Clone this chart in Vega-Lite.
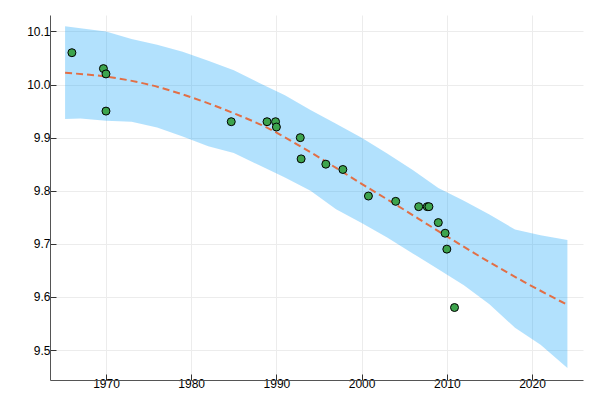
{
  "$schema": "https://vega.github.io/schema/vega-lite/v6.json",
  "width": 533,
  "height": 365,
  "autosize": {"type": "none"},
  "padding": {"left": 50, "top": 15, "right": 12, "bottom": 26},
  "background": "white",
  "config": {
    "view": {"stroke": null},
    "axis": {
      "labelFont": "Liberation Sans",
      "labelFontSize": 12,
      "labelColor": "#000000",
      "domainColor": "#555555",
      "domainWidth": 1,
      "tickColor": "#333333",
      "tickSize": -6,
      "tickWidth": 1,
      "gridColor": "#ececec",
      "gridWidth": 1,
      "title": null
    }
  },
  "datasets": {
    "band": [
      {"year": 1965.2, "lo": 9.935, "hi": 10.110},
      {"year": 1967, "lo": 9.936, "hi": 10.106},
      {"year": 1970, "lo": 9.932, "hi": 10.100},
      {"year": 1973, "lo": 9.930, "hi": 10.086},
      {"year": 1976, "lo": 9.919, "hi": 10.075},
      {"year": 1979, "lo": 9.902, "hi": 10.062},
      {"year": 1982, "lo": 9.884, "hi": 10.045},
      {"year": 1985, "lo": 9.871, "hi": 10.027},
      {"year": 1988, "lo": 9.848, "hi": 10.003},
      {"year": 1991, "lo": 9.825, "hi": 9.980},
      {"year": 1994, "lo": 9.800, "hi": 9.952},
      {"year": 1997, "lo": 9.765, "hi": 9.926},
      {"year": 2000, "lo": 9.739, "hi": 9.900},
      {"year": 2003, "lo": 9.712, "hi": 9.870},
      {"year": 2006, "lo": 9.682, "hi": 9.839},
      {"year": 2009, "lo": 9.652, "hi": 9.805},
      {"year": 2012, "lo": 9.622, "hi": 9.781},
      {"year": 2015, "lo": 9.586, "hi": 9.755},
      {"year": 2018, "lo": 9.542, "hi": 9.727},
      {"year": 2021, "lo": 9.510, "hi": 9.716},
      {"year": 2024.15, "lo": 9.466, "hi": 9.707}
    ],
    "fit": [
      {"year": 1965.2, "value": 10.022},
      {"year": 1970, "value": 10.015},
      {"year": 1975, "value": 10.000},
      {"year": 1980, "value": 9.976},
      {"year": 1985, "value": 9.946},
      {"year": 1989, "value": 9.918},
      {"year": 1993, "value": 9.882},
      {"year": 1997, "value": 9.843},
      {"year": 2000, "value": 9.813},
      {"year": 2004, "value": 9.774},
      {"year": 2009, "value": 9.724},
      {"year": 2014, "value": 9.675},
      {"year": 2019, "value": 9.629},
      {"year": 2024.15, "value": 9.585}
    ],
    "pts": [
      {"year": 1966.0, "time": 10.06},
      {"year": 1969.7, "time": 10.03},
      {"year": 1970.0, "time": 10.02},
      {"year": 1970.0, "time": 9.95},
      {"year": 1984.7, "time": 9.93},
      {"year": 1988.9, "time": 9.93},
      {"year": 1989.9, "time": 9.93},
      {"year": 1990.0, "time": 9.92},
      {"year": 1992.8, "time": 9.90},
      {"year": 1992.9, "time": 9.86},
      {"year": 1995.8, "time": 9.85},
      {"year": 1997.8, "time": 9.84},
      {"year": 2000.8, "time": 9.79},
      {"year": 2004.0, "time": 9.78},
      {"year": 2006.7, "time": 9.77},
      {"year": 2007.7, "time": 9.77},
      {"year": 2007.9, "time": 9.77},
      {"year": 2009.0, "time": 9.74},
      {"year": 2009.8, "time": 9.72},
      {"year": 2010.0, "time": 9.69},
      {"year": 2010.9, "time": 9.58}
    ]
  },
  "layer": [
    {
      "data": {"name": "band"},
      "mark": {"type": "area", "color": "#009AFA", "opacity": 0.3},
      "encoding": {
        "x": {
          "field": "year", "type": "quantitative",
          "scale": {"domain": [1963.43, 2025.98], "nice": false, "zero": false},
          "axis": {"values": [1970, 1980, 1990, 2000, 2010, 2020], "format": "d", "labelPadding": 4}
        },
        "y": {
          "field": "lo", "type": "quantitative",
          "scale": {"domain": [9.4435, 10.131], "nice": false, "zero": false},
          "axis": {"values": [9.5, 9.6, 9.7, 9.8, 9.9, 10.0, 10.1], "format": ".1f", "labelPadding": 6}
        },
        "y2": {"field": "hi"}
      }
    },
    {
      "data": {"name": "fit"},
      "mark": {"type": "line", "color": "#E26F46", "strokeWidth": 2, "strokeDash": [7, 4], "interpolate": "monotone"},
      "encoding": {
        "x": {"field": "year", "type": "quantitative"},
        "y": {"field": "value", "type": "quantitative"}
      }
    },
    {
      "data": {"name": "pts"},
      "mark": {"type": "point", "filled": true, "fill": "#3DA44D", "stroke": "#000000", "strokeWidth": 1, "size": 64, "opacity": 1, "fillOpacity": 1},
      "encoding": {
        "x": {"field": "year", "type": "quantitative"},
        "y": {"field": "time", "type": "quantitative"}
      }
    }
  ]
}
